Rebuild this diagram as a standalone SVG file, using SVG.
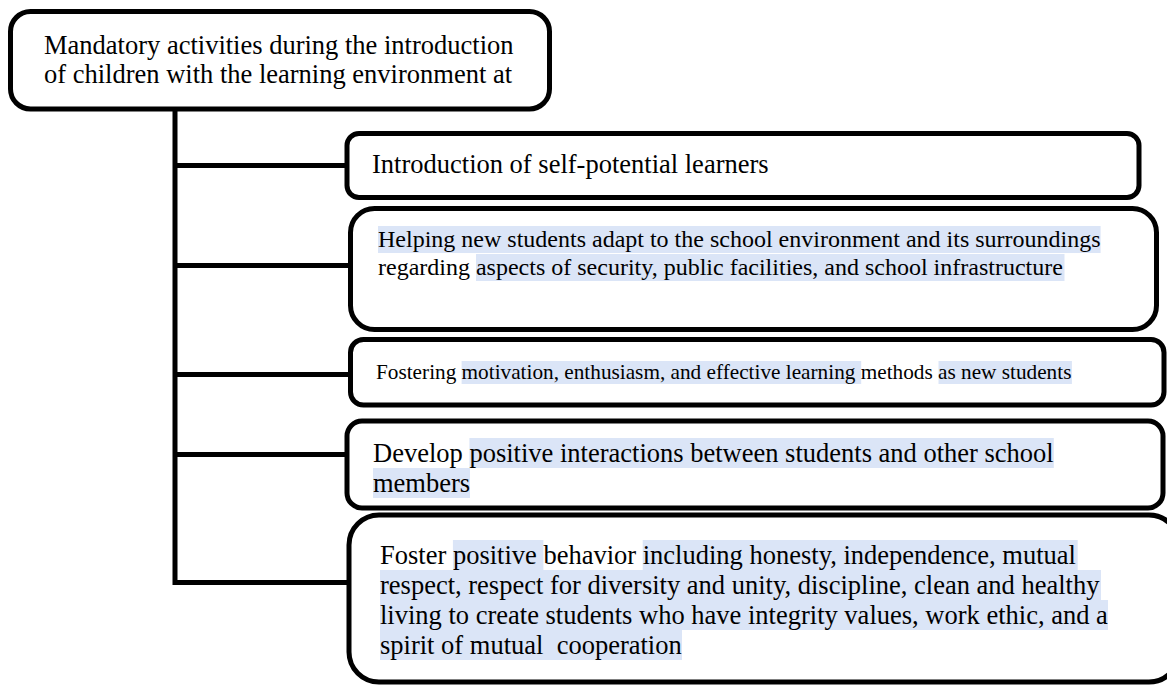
<svg xmlns="http://www.w3.org/2000/svg" width="1167" height="686" viewBox="0 0 1167 686">
<style>
.box{fill:#fff;stroke:#000;stroke-width:5}
.ln{fill:none;stroke:#000;stroke-width:5}
.t{font-family:"Liberation Serif","Times New Roman",serif;fill:#000}
.hl{fill:#dbe5f7}
</style>
<rect width="1167" height="686" fill="#fff"/>
<g id="connectors">
<path class="ln" d="M175,109 V582.5 H349"/>
<line class="ln" x1="175" y1="165.5" x2="347" y2="165.5"/>
<line class="ln" x1="175" y1="265.5" x2="350.5" y2="265.5"/>
<line class="ln" x1="175" y1="374.5" x2="350.5" y2="374.5"/>
<line class="ln" x1="175" y1="454.5" x2="347" y2="454.5"/>
</g>
<g id="root">
<rect class="box" x="10.5" y="11.5" width="539" height="97.5" rx="20"/>
<text class="t" font-size="26.5" x="44" y="54">Mandatory activities during the introduction</text>
<text class="t" font-size="26.5" x="44" y="83">of children with the learning environment at</text>
</g>
<g id="n1">
<rect class="box" x="347" y="133.5" width="792" height="64" rx="12"/>
<text class="t" font-size="26.5" x="372" y="173">Introduction of self-potential learners</text>
</g>
<g id="n2">
<rect class="box" x="350.5" y="208.5" width="806" height="121" rx="24"/>
<rect class="hl" x="378" y="226" width="722.6" height="27"/>
<rect class="hl" x="476" y="254" width="588.5" height="27"/>
<text class="t" font-size="24" x="378" y="247">Helping new students adapt to the school environment and its surroundings</text>
<text class="t" font-size="24" x="378" y="275">regarding aspects of security, public facilities, and school infrastructure</text>
</g>
<g id="n3">
<rect class="box" x="350.5" y="339.5" width="813.5" height="65.5" rx="13"/>
<rect class="hl" x="461.6" y="361" width="399.6" height="23"/>
<rect class="hl" x="938.5" y="361" width="133.4" height="23"/>
<text class="t" font-size="21.25" x="376" y="379">Fostering motivation, enthusiasm, and effective learning methods as new students</text>
</g>
<g id="n4">
<rect class="box" x="347" y="421" width="816" height="87" rx="15"/>
<rect class="hl" x="469.4" y="438" width="584.4" height="30"/>
<rect class="hl" x="373" y="468" width="97" height="30"/>
<text class="t" font-size="26.5" x="373" y="462">Develop positive interactions between students and other school</text>
<text class="t" font-size="26.5" x="373" y="492">members</text>
</g>
<g id="n5">
<rect class="box" x="349" y="515" width="830" height="167" rx="30"/>
<rect class="hl" x="452.9" y="540" width="90.5" height="30"/>
<rect class="hl" x="642.7" y="540" width="435" height="30"/>
<rect class="hl" x="380" y="570" width="721" height="30"/>
<rect class="hl" x="380" y="600" width="728" height="30"/>
<rect class="hl" x="380" y="630" width="302" height="30"/>
<text class="t" font-size="26.5" x="380" y="564">Foster positive behavior including honesty, independence, mutual</text>
<text class="t" font-size="26.5" x="380" y="594">respect, respect for diversity and unity, discipline, clean and healthy</text>
<text class="t" font-size="26.5" x="380" y="624">living to create students who have integrity values, work ethic, and a</text>
<text class="t" font-size="26.5" x="380" y="654" style="white-space:pre">spirit of mutual  cooperation</text>
</g>
</svg>
